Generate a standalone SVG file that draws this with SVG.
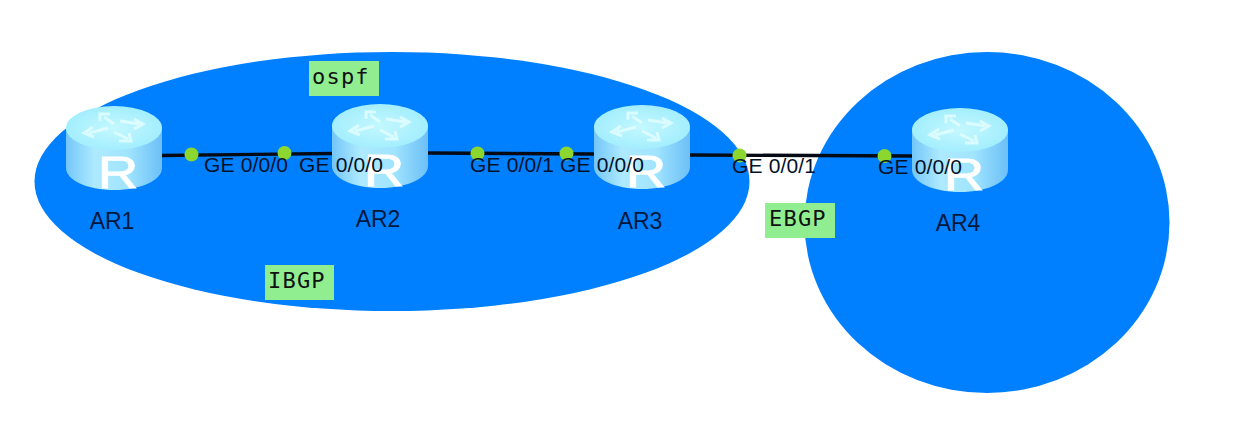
<svg xmlns="http://www.w3.org/2000/svg" width="1238" height="428" viewBox="0 0 1238 428">
<style>
.area{fill:#0080ff}
.lbl{font:23px "Liberation Sans",Arial,sans-serif;fill:#00183c}
.port{font:21px "Liberation Sans",Arial,sans-serif;fill:#04122a;letter-spacing:.15px}
.tag{fill:#90ee90}
.tagt{font:22px "DejaVu Sans Mono","Liberation Mono",monospace;fill:#111;letter-spacing:1.2px}
.link{stroke:#050a14;stroke-width:3.4;fill:none}
.dot{fill:#8bd62f}
.r{font:45px "Liberation Sans",Arial,sans-serif;fill:#fff;stroke:#fff;stroke-width:.8}
.arrow{fill:none;stroke:#e2fdff;stroke-width:3;stroke-opacity:.85}
</style>
<defs>
<linearGradient id="body" x1="0" x2="1" y1="0" y2="0">
<stop offset="0" stop-color="#74c6f8"/><stop offset=".3" stop-color="#aeeaff"/><stop offset=".65" stop-color="#a0e4fe"/><stop offset="1" stop-color="#6cbff7"/>
</linearGradient>
<radialGradient id="top" cx=".5" cy=".5" r=".6">
<stop offset="0" stop-color="#c4f8ff"/><stop offset="1" stop-color="#9decfd"/>
</radialGradient>
<g id="router">
<path d="M0 22V62C0 74 21 84 48 84S96 74 96 62V22Z" fill="url(#body)"/>
<ellipse cx="48" cy="22" rx="48" ry="22" fill="url(#top)"/>
<path class="arrow" d="M48 18L38 11M44 8L34 8L34 15M54 15L73 18M68 13L77 18L68 23M42 22L23 27M27 21L18 27L28 31M48 26L62 33M53 35L65 35L63 27"/>
<text class="r" transform="translate(52 82) scale(1.25 1)" text-anchor="middle">R</text>
</g>
</defs>
<rect width="1238" height="428" fill="#fff"/>
<g id="areas">
<ellipse id="area-ibgp" class="area" cx="392" cy="181.500" rx="357.500" ry="129.500"/>
<ellipse id="area-ebgp" class="area" cx="987" cy="222.500" rx="182.500" ry="170.500"/>
</g>
<g id="connectors">
<path class="link" d="M160 155.500L333 153.500"/>
<path class="link" d="M427 153L594 154"/>
<path class="link" d="M690 155L912 156"/>
<circle class="dot" cx="191.500" cy="154.500" r="7"/>
<circle class="dot" cx="284.500" cy="153" r="7"/>
<circle class="dot" cx="477.500" cy="153.500" r="7"/>
<circle class="dot" cx="566.500" cy="153.500" r="7"/>
<circle class="dot" cx="739.500" cy="155.500" r="7"/>
<circle class="dot" cx="884.500" cy="156" r="7"/>
</g>
<g id="AR1"><use href="#router" x="66" y="106"/><text class="lbl" x="112" y="229" text-anchor="middle">AR1</text></g>
<g id="AR2"><use href="#router" x="332" y="104"/><text class="lbl" x="378" y="227" text-anchor="middle">AR2</text></g>
<g id="AR3"><use href="#router" x="594" y="105"/><text class="lbl" x="640" y="229" text-anchor="middle">AR3</text></g>
<g id="AR4"><use href="#router" x="912" y="108"/><text class="lbl" x="958" y="231" text-anchor="middle">AR4</text></g>
<g id="port-labels">
<text class="port" x="204" y="172">GE 0/0/0</text>
<text class="port" x="299" y="172">GE 0/0/0</text>
<text class="port" x="470" y="172">GE 0/0/1</text>
<text class="port" x="560" y="172">GE 0/0/0</text>
<text class="port" x="732" y="173">GE 0/0/1</text>
<text class="port" x="878" y="174">GE 0/0/0</text>
</g>
<g id="tag-ospf"><rect class="tag" x="309" y="61" width="70" height="35"/><text class="tagt" x="312" y="84">ospf</text></g>
<g id="tag-ibgp"><rect class="tag" x="265" y="265" width="69" height="35"/><text class="tagt" x="268" y="288">IBGP</text></g>
<g id="tag-ebgp"><rect class="tag" x="765" y="203" width="70" height="35"/><text class="tagt" x="769" y="226">EBGP</text></g>
</svg>
